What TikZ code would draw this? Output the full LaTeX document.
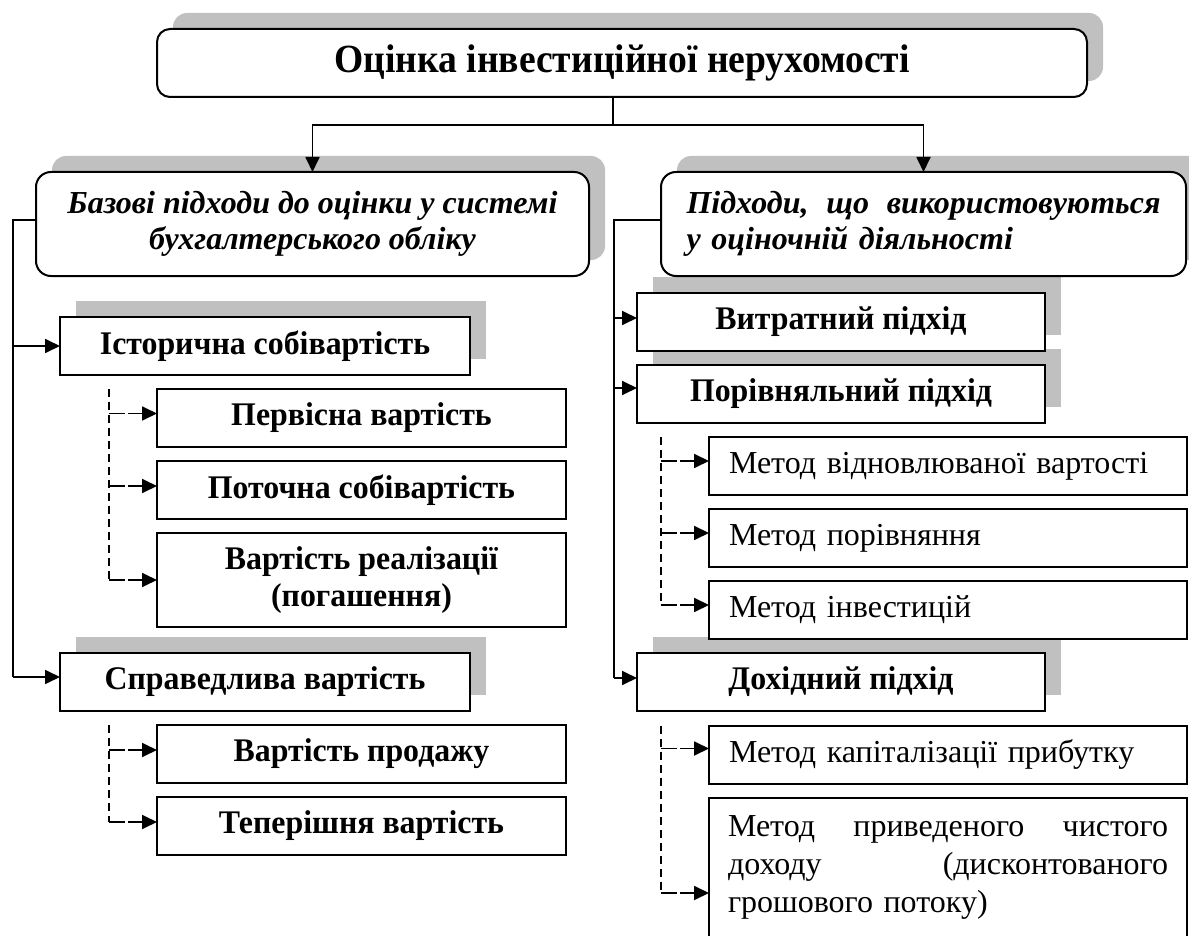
\documentclass[tikz,border=0pt]{standalone}
\usepackage{fontspec}
\setmainfont{Liberation Serif}
\newfontfamily\serifNarrow[FakeStretch=0.94]{Liberation Serif}
\newfontfamily\serifSlim[FakeStretch=0.965]{Liberation Serif}
\usetikzlibrary{arrows.meta,backgrounds,calc}
\definecolor{shadowgray}{RGB}{192,192,192}
\newcommand\fTitle{\serifNarrow\fontsize{40}{46}\selectfont\bfseries}
\newcommand\fItal{\fontsize{32}{36}\selectfont\bfseries\itshape}
\newcommand\fBold{\serifSlim\fontsize{33}{37}\selectfont\bfseries}
\newcommand\fReg{\fontsize{32}{38}\selectfont}
\begin{document}
\begin{tikzpicture}[x=1pt,y=-1pt,
  every node/.style={inner sep=0pt, outer sep=0pt},
  frame/.style={draw, line width=2pt, fill=white, align=center},
  roundframe/.style={frame, rounded corners=13pt},
  bbox/.style={frame, minimum width=410pt, minimum height=58pt, font=\fBold},
  sbox/.style={frame, minimum width=409pt, minimum height=58pt, font=\fBold},
  rbox/.style={frame, minimum width=408pt, minimum height=58pt, font=\fBold},
  mbox/.style={frame, minimum width=478pt, minimum height=58pt, text width=438pt, align=left, font=\fReg},
  line/.style={line width=1.8pt},
  arr/.style={line, -{Triangle[length=15pt,width=14pt]}},
  dline/.style={line, dash pattern=on 8pt off 5pt},
  darr/.style={line, dash pattern=on 16pt off 3pt, -{Triangle[length=15pt,width=14pt]}},
  shadowfill/.style={fill=shadowgray}
]
\useasboundingbox (0,0) rectangle (1189,936);

% top level
\node[roundframe, minimum width=930pt, minimum height=68pt, font=\fTitle] (title) at (622,63) {Оцінка інвестиційної нерухомості};

% second level
\node[roundframe, rounded corners=15pt, minimum width=553pt, minimum height=104pt, font=\fItal] (base) at (312.5,224)
  {Базові підходи до оцінки у системі\\бухгалтерського обліку};
\node[roundframe, rounded corners=15pt, minimum width=525pt, minimum height=104pt, text width=474pt, align=left, font=\fItal] (base2) at (923.5,224)
  {Підходи,\hfill що\hfill використовуються\\у оціночній діяльності};

% left column
\node[bbox] (hist) at (265,346) {Історична собівартість};
\node[sbox] (p1) at (361.5,417.5) {Первісна вартість};
\node[sbox] (p2) at (361.5,490) {Поточна собівартість};
\node[sbox, minimum height=94pt] (p3) at (361.5,580) {Вартість реалізації\\(погашення)};
\node[bbox] (fair) at (265,682) {Справедлива вартість};
\node[sbox] (s1) at (361.5,754) {Вартість продажу};
\node[sbox] (s2) at (361.5,826) {Теперішня вартість};

% right column
\node[rbox] (cost) at (841,322) {Витратний підхід};
\node[rbox] (comp) at (841,394) {Порівняльний підхід};
\node[mbox] (m1) at (948,466) {Метод відновлюваної вартості};
\node[mbox] (m2) at (948,538) {Метод порівняння};
\node[mbox] (m3) at (948,610) {Метод інвестицій};
\node[rbox] (income) at (841,682) {Дохідний підхід};
\node[mbox] (m4) at (948,754.5) {Метод капіталізації прибутку};
\node[frame, minimum width=478pt, minimum height=170pt, anchor=north] (m5) at (948,798) {};
\node[anchor=north, text width=440pt, align=left, font=\fReg] (m5text) at ($(m5.north)+(0,18)$)
  {Метод\hfill приведеного\hfill чистого\\доходу\hfill (дисконтованого\\грошового потоку)};

% shadows behind the framed boxes
\begin{scope}[on background layer]
  \foreach \n in {title,base,base2}
    \fill[shadowfill, rounded corners=14pt] ($(\n.south west)+(16,-16)$) rectangle ($(\n.north east)+(16,-16)$);
  \foreach \n in {hist,fair,cost,comp,income}
    \fill[shadowfill] ($(\n.south west)+(16,-16)$) rectangle ($(\n.north east)+(16,-16)$);
\end{scope}

% trunk lines
\coordinate (Lx) at (13,0);
\coordinate (Rx) at (614,0);
\coordinate (Dl) at (109,0);
\coordinate (Dr) at (661,0);

% top split
\draw[line] ($(title.south)+(-9,0)$) -- ++(0,28) coordinate (split);
\draw[arr] (split) -| (base.north);
\draw[arr] (split) -| (base2.north);

% left trunk
\draw[line] ($(base.west)+(0,-4)$) -- ($(Lx |- base.west)+(0,-4)$) -- ($(Lx |- fair.west)+(0,-5)$);
\draw[arr] (Lx |- hist.west) -- (hist.west);
\draw[arr] ($(Lx |- fair.west)+(0,-5)$) -- ($(fair.west)+(0,-5)$);

% left dashed branches
\draw[dline] (Dl |- p1.north) -- (Dl |- p3.west);
\draw[darr] ($(Dl |- p1.west)+(0,-4)$) -- ($(p1.west)+(0,-4)$);
\draw[darr] ($(Dl |- p2.west)+(0,-4)$) -- ($(p2.west)+(0,-4)$);
\draw[darr] (Dl |- p3.west) -- (p3.west);
\draw[dline] (Dl |- s1.north) -- ($(Dl |- s2.west)+(0,-4)$);
\draw[darr] ($(Dl |- s1.west)+(0,-4)$) -- ($(s1.west)+(0,-4)$);
\draw[darr] ($(Dl |- s2.west)+(0,-4)$) -- ($(s2.west)+(0,-4)$);

% right trunk
\draw[line] ($(base2.west)+(0,-4)$) -- ($(Rx |- base2.west)+(0,-4)$) -- ($(Rx |- income.west)+(0,-4)$);
\draw[arr] ($(Rx |- cost.west)+(0,-4)$) -- ($(cost.west)+(0,-4)$);
\draw[arr] ($(Rx |- comp.west)+(0,-6)$) -- ($(comp.west)+(0,-6)$);
\draw[arr] ($(Rx |- income.west)+(0,-4)$) -- ($(income.west)+(0,-4)$);

% right dashed branches
\draw[dline] (Dr |- m1.north) -- ($(Dr |- m3.west)+(0,-5)$);
\draw[darr] ($(Dr |- m1.west)+(0,-5)$) -- ($(m1.west)+(0,-5)$);
\draw[darr] ($(Dr |- m2.west)+(0,-5)$) -- ($(m2.west)+(0,-5)$);
\draw[darr] ($(Dr |- m3.west)+(0,-5)$) -- ($(m3.west)+(0,-5)$);
\draw[dline] (Dr |- m4.north) -- ($(Dr |- m5.north)+(0,95)$);
\draw[darr] ($(Dr |- m4.west)+(0,-6)$) -- ($(m4.west)+(0,-6)$);
\draw[darr] ($(Dr |- m5.north)+(0,95)$) -- ($(m5.north west)+(0,95)$);
\end{tikzpicture}
\end{document}
